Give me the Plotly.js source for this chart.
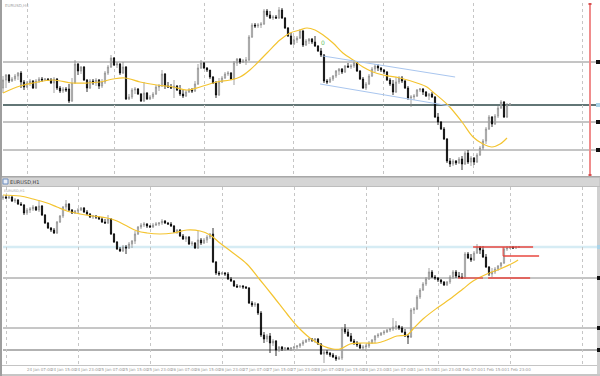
<!DOCTYPE html>
<html><head><meta charset="utf-8">
<script src="https://cdn.plot.ly/plotly-3.0.1.min.js"></script>
<style>html,body{margin:0;padding:0;background:#fff;}#chart{width:600px;height:376px;}</style>
</head><body><div id="chart"></div>
<script>
// ---------- EURUSD H4 (top panel) ----------
const topOpen = [1.1333,1.1349,1.1359,1.1347,1.1351,1.1357,1.1363,1.1345,1.1335,1.1343,
1.1347,1.1333,1.1347,1.1351,1.1349,1.1351,1.1349,1.1343,1.1351,1.1333,
1.1327,1.1331,1.1331,1.1307,1.1343,1.1381,1.1367,1.1375,1.1349,1.1333,
1.1347,1.1343,1.1349,1.1337,1.1345,1.1363,1.1375,1.1393,1.1379,1.1381,
1.1363,1.1375,1.1311,1.1315,1.1329,1.1331,1.1321,1.1307,1.1323,1.1311,
1.1315,1.1321,1.1335,1.1337,1.1361,1.1337,1.1335,1.1333,1.1337,1.1329,
1.1321,1.1317,1.1325,1.1329,1.1327,1.1341,1.1373,1.1383,1.1373,1.1369,
1.1355,1.1343,1.1319,1.1345,1.1353,1.1361,1.1363,1.1351,1.1383,1.1391,
1.1385,1.1387,1.1389,1.1435,1.1459,1.1457,1.1459,1.1461,1.1487,1.1479,
1.1473,1.1475,1.1473,1.1489,1.1473,1.1453,1.1437,1.1421,1.1429,1.1433,
1.1447,1.1419,1.1427,1.1431,1.1425,1.1417,1.1407,1.1399,1.1347,1.1345,
1.1351,1.1357,1.1367,1.1371,1.1365,1.1377,1.1375,1.1377,1.1383,1.1367,
1.1351,1.1333,1.1341,1.1357,1.1371,1.1377,1.1373,1.1369,1.1365,1.1349,
1.1341,1.1325,1.1345,1.1353,1.1347,1.1333,1.1313,1.1315,1.1317,1.1329,
1.1331,1.1325,1.1317,1.1321,1.1315,1.1275,1.1265,1.1251,1.1231,1.1187,
1.1181,1.1187,1.1183,1.1191,1.1181,1.1203,1.1185,1.1193,1.1185,1.1199,
1.1213,1.1227,1.1251,1.1275,1.1261,1.1277,1.1293,1.1305,1.1275,1.1299];
const topHigh = [1.1357,1.1361,1.1361,1.1355,1.1361,1.1365,1.1367,1.1349,1.1347,1.1351,
1.1349,1.1351,1.1355,1.1355,1.1353,1.1353,1.1353,1.1355,1.1353,1.1337,
1.1335,1.1335,1.1341,1.1353,1.1389,1.1383,1.1377,1.1377,1.1351,1.1351,
1.1351,1.1353,1.1351,1.1351,1.1367,1.1379,1.1399,1.1395,1.1385,1.1383,
1.1385,1.1377,1.1321,1.1333,1.1335,1.1333,1.1323,1.1345,1.1325,1.1319,
1.1325,1.1339,1.1341,1.1369,1.1363,1.1345,1.1341,1.1349,1.1339,1.1339,
1.1331,1.1329,1.1333,1.1333,1.1347,1.1381,1.1389,1.1385,1.1375,1.1369,
1.1357,1.1347,1.1353,1.1357,1.1365,1.1367,1.1365,1.1387,1.1393,1.1393,
1.1391,1.1395,1.1439,1.1463,1.1463,1.1463,1.1465,1.1491,1.1491,1.1487,
1.1479,1.1479,1.1495,1.1493,1.1475,1.1455,1.1443,1.1437,1.1437,1.1451,
1.1449,1.1431,1.1433,1.1433,1.1437,1.1419,1.1413,1.1401,1.1351,1.1355,
1.1359,1.1369,1.1373,1.1373,1.1379,1.1383,1.1381,1.1389,1.1385,1.1369,
1.1355,1.1345,1.1361,1.1375,1.1381,1.1381,1.1375,1.1371,1.1367,1.1353,
1.1349,1.1355,1.1357,1.1357,1.1349,1.1337,1.1319,1.1321,1.1331,1.1333,
1.1333,1.1327,1.1323,1.1325,1.1317,1.1283,1.1267,1.1255,1.1233,1.1193,
1.1191,1.1189,1.1195,1.1197,1.1207,1.1209,1.1197,1.1195,1.1203,1.1217,
1.1231,1.1255,1.1279,1.1277,1.1281,1.1297,1.1309,1.1307,1.1303,1.1303];
const topLow = [1.1323,1.1333,1.1343,1.1345,1.1347,1.1349,1.1333,1.1329,1.1333,1.1337,
1.1331,1.1331,1.1343,1.1345,1.1347,1.1347,1.1341,1.1323,1.1329,1.1323,
1.1323,1.1325,1.1303,1.1305,1.1341,1.1359,1.1361,1.1347,1.1325,1.1331,
1.1339,1.1337,1.1331,1.1333,1.1341,1.1359,1.1373,1.1377,1.1373,1.1359,
1.1361,1.1309,1.1309,1.1311,1.1321,1.1319,1.1305,1.1305,1.1309,1.1309,
1.1311,1.1319,1.1327,1.1335,1.1331,1.1333,1.1331,1.1313,1.1327,1.1317,
1.1313,1.1315,1.1323,1.1323,1.1325,1.1339,1.1371,1.1371,1.1365,1.1351,
1.1341,1.1313,1.1317,1.1343,1.1351,1.1357,1.1349,1.1339,1.1377,1.1381,
1.1383,1.1379,1.1387,1.1433,1.1453,1.1453,1.1453,1.1459,1.1475,1.1471,
1.1469,1.1471,1.1471,1.1471,1.1451,1.1435,1.1419,1.1419,1.1423,1.1431,
1.1415,1.1417,1.1421,1.1421,1.1415,1.1405,1.1395,1.1343,1.1341,1.1343,
1.1347,1.1353,1.1359,1.1361,1.1363,1.1373,1.1371,1.1373,1.1365,1.1349,
1.1331,1.1329,1.1339,1.1355,1.1365,1.1367,1.1365,1.1361,1.1347,1.1337,
1.1319,1.1323,1.1341,1.1343,1.1331,1.1309,1.1295,1.1309,1.1315,1.1325,
1.1319,1.1315,1.1309,1.1313,1.1273,1.1259,1.1249,1.1229,1.1183,1.1175,
1.1177,1.1179,1.1181,1.1169,1.1179,1.1181,1.1177,1.1179,1.1183,1.1197,
1.1209,1.1221,1.1249,1.1255,1.1259,1.1273,1.1291,1.1273,1.1273,1.1297];
const topClose = [1.1349,1.1359,1.1347,1.1351,1.1357,1.1363,1.1345,1.1335,1.1343,1.1347,
1.1333,1.1347,1.1351,1.1349,1.1351,1.1349,1.1343,1.1351,1.1333,1.1327,
1.1331,1.1329,1.1307,1.1343,1.1381,1.1367,1.1375,1.1349,1.1333,1.1347,
1.1343,1.1349,1.1337,1.1345,1.1363,1.1375,1.1393,1.1379,1.1381,1.1363,
1.1375,1.1311,1.1315,1.1329,1.1331,1.1321,1.1307,1.1323,1.1311,1.1315,
1.1321,1.1335,1.1337,1.1361,1.1337,1.1335,1.1333,1.1337,1.1329,1.1321,
1.1317,1.1325,1.1329,1.1327,1.1341,1.1373,1.1383,1.1373,1.1369,1.1355,
1.1343,1.1319,1.1345,1.1353,1.1361,1.1363,1.1351,1.1383,1.1391,1.1385,
1.1387,1.1389,1.1435,1.1459,1.1457,1.1459,1.1461,1.1487,1.1479,1.1473,
1.1475,1.1473,1.1489,1.1473,1.1453,1.1437,1.1421,1.1429,1.1433,1.1447,
1.1419,1.1427,1.1431,1.1425,1.1417,1.1407,1.1399,1.1347,1.1345,1.1351,
1.1357,1.1367,1.1371,1.1365,1.1377,1.1375,1.1377,1.1383,1.1367,1.1351,
1.1333,1.1341,1.1357,1.1371,1.1377,1.1373,1.1369,1.1365,1.1349,1.1341,
1.1325,1.1345,1.1353,1.1347,1.1333,1.1313,1.1315,1.1317,1.1329,1.1331,
1.1325,1.1317,1.1321,1.1315,1.1275,1.1265,1.1251,1.1231,1.1187,1.1181,
1.1187,1.1183,1.1191,1.1181,1.1203,1.1185,1.1193,1.1185,1.1199,1.1213,
1.1227,1.1251,1.1275,1.1261,1.1277,1.1293,1.1305,1.1275,1.1299,1.1301];
const topMaBar = [0,5.7,10,16.7,23,28,32.3,36.7,40.7,45.7,51.3,56.7,61.3,65.7,71.3,75.7,79,82.3,88,92.3,95.7,99,101.3,104,106.7,110,113.3,116.7,120,123.3,126.7,132.3,138,141.3,143.3,148.3,153,156.7,160,163,165.7,168];
const topMaVal = [1.1323,1.1337,1.1343,1.1349,1.1343,1.1343,1.1345,1.1351,1.1353,1.1345,1.1339,1.1335,1.1329,1.1335,1.1345,1.1349,1.1355,1.1369,1.1403,1.1429,1.1443,1.1449,1.1453,1.1449,1.1439,1.1423,1.1403,1.1389,1.1375,1.1365,1.1359,1.1353,1.1343,1.1335,1.1325,1.1299,1.1265,1.1235,1.1221,1.1215,1.1221,1.1233];
const topLevels = [1.1385,1.1299,1.1265,1.1209];
const topChannelUpper = {bar:[106.7,150.7], val:[1.1397,1.1355]};
const topChannelLower = {bar:[105.7,149], val:[1.1341,1.1297]};
const topGridBars = [8,37.3,67,96.7,126.7,156.7,193];

// ---------- EURUSD H1 (bottom panel) ----------
const botOpen = [1.1348,1.1349,1.1348,1.1349,1.1345,1.1346,1.1342,1.1341,1.1333,1.1336,
1.1337,1.1339,1.1336,1.1340,1.1331,1.1323,1.1318,1.1316,1.1313,1.1324,
1.1330,1.1339,1.1342,1.1336,1.1333,1.1335,1.1336,1.1338,1.1334,1.1332,
1.1329,1.1330,1.1329,1.1327,1.1324,1.1323,1.1327,1.1312,1.1304,1.1297,
1.1295,1.1299,1.1298,1.1302,1.1305,1.1312,1.1319,1.1321,1.1322,1.1320,
1.1319,1.1321,1.1322,1.1323,1.1325,1.1323,1.1322,1.1320,1.1314,1.1316,
1.1310,1.1307,1.1309,1.1302,1.1303,1.1298,1.1306,1.1303,1.1306,1.1309,
1.1312,1.1284,1.1273,1.1272,1.1273,1.1272,1.1267,1.1265,1.1260,1.1259,
1.1260,1.1259,1.1258,1.1243,1.1241,1.1242,1.1233,1.1211,1.1207,1.1210,
1.1203,1.1205,1.1196,1.1199,1.1197,1.1198,1.1197,1.1198,1.1199,1.1200,
1.1202,1.1204,1.1206,1.1207,1.1206,1.1207,1.1202,1.1192,1.1194,1.1193,
1.1191,1.1189,1.1187,1.1188,1.1217,1.1214,1.1210,1.1205,1.1203,1.1201,
1.1198,1.1199,1.1200,1.1203,1.1206,1.1210,1.1211,1.1213,1.1214,1.1216,
1.1217,1.1219,1.1220,1.1218,1.1214,1.1210,1.1209,1.1236,1.1237,1.1249,
1.1256,1.1262,1.1267,1.1274,1.1269,1.1268,1.1266,1.1264,1.1261,1.1264,
1.1269,1.1274,1.1270,1.1269,1.1268,1.1292,1.1288,1.1286,1.1293,1.1299,
1.1296,1.1289,1.1279,1.1272,1.1274,1.1277,1.1280,1.1283,1.1297,1.1298,
1.1299,1.1298,1.1299];
const botHigh = [1.1351,1.1351,1.1350,1.1350,1.1348,1.1347,1.1344,1.1342,1.1338,1.1339,
1.1341,1.1340,1.1346,1.1341,1.1332,1.1324,1.1319,1.1318,1.1325,1.1331,
1.1340,1.1346,1.1343,1.1337,1.1336,1.1338,1.1339,1.1339,1.1336,1.1333,
1.1331,1.1331,1.1330,1.1329,1.1327,1.1331,1.1328,1.1313,1.1305,1.1299,
1.1301,1.1301,1.1304,1.1306,1.1315,1.1320,1.1323,1.1324,1.1323,1.1321,
1.1323,1.1324,1.1324,1.1327,1.1326,1.1324,1.1324,1.1321,1.1317,1.1317,
1.1312,1.1310,1.1310,1.1305,1.1304,1.1315,1.1308,1.1308,1.1311,1.1313,
1.1318,1.1285,1.1275,1.1274,1.1274,1.1274,1.1269,1.1266,1.1262,1.1261,
1.1261,1.1260,1.1259,1.1245,1.1244,1.1243,1.1235,1.1214,1.1212,1.1213,
1.1207,1.1206,1.1200,1.1200,1.1199,1.1199,1.1199,1.1200,1.1201,1.1203,
1.1206,1.1207,1.1208,1.1208,1.1208,1.1208,1.1203,1.1196,1.1196,1.1194,
1.1193,1.1191,1.1190,1.1219,1.1222,1.1217,1.1213,1.1207,1.1205,1.1203,
1.1201,1.1202,1.1205,1.1207,1.1211,1.1213,1.1214,1.1216,1.1217,1.1218,
1.1228,1.1225,1.1221,1.1220,1.1217,1.1212,1.1238,1.1239,1.1251,1.1258,
1.1264,1.1269,1.1278,1.1276,1.1271,1.1269,1.1267,1.1265,1.1265,1.1271,
1.1276,1.1276,1.1274,1.1273,1.1294,1.1294,1.1292,1.1295,1.1302,1.1300,
1.1300,1.1292,1.1280,1.1278,1.1279,1.1281,1.1284,1.1299,1.1300,1.1300,
1.1300,1.1300,1.1300];
const botLow = [1.1346,1.1347,1.1347,1.1344,1.1343,1.1341,1.1340,1.1331,1.1331,1.1333,
1.1335,1.1335,1.1334,1.1330,1.1322,1.1317,1.1314,1.1312,1.1312,1.1323,
1.1328,1.1336,1.1335,1.1332,1.1332,1.1333,1.1335,1.1333,1.1331,1.1328,
1.1327,1.1327,1.1326,1.1323,1.1322,1.1322,1.1311,1.1303,1.1296,1.1294,
1.1294,1.1292,1.1297,1.1298,1.1302,1.1311,1.1317,1.1319,1.1318,1.1318,
1.1318,1.1320,1.1320,1.1321,1.1322,1.1321,1.1319,1.1313,1.1312,1.1309,
1.1306,1.1304,1.1301,1.1300,1.1297,1.1297,1.1301,1.1302,1.1303,1.1307,
1.1283,1.1271,1.1270,1.1271,1.1270,1.1266,1.1264,1.1259,1.1258,1.1258,
1.1257,1.1257,1.1242,1.1239,1.1239,1.1231,1.1209,1.1203,1.1204,1.1193,
1.1200,1.1190,1.1194,1.1195,1.1195,1.1196,1.1195,1.1196,1.1197,1.1198,
1.1200,1.1203,1.1204,1.1204,1.1203,1.1201,1.1191,1.1183,1.1191,1.1189,
1.1188,1.1185,1.1186,1.1186,1.1212,1.1209,1.1204,1.1201,1.1199,1.1197,
1.1196,1.1195,1.1198,1.1202,1.1203,1.1208,1.1210,1.1211,1.1213,1.1214,
1.1215,1.1216,1.1216,1.1213,1.1209,1.1202,1.1208,1.1232,1.1236,1.1247,
1.1255,1.1260,1.1266,1.1268,1.1266,1.1264,1.1262,1.1260,1.1260,1.1262,
1.1267,1.1268,1.1268,1.1267,1.1267,1.1287,1.1284,1.1285,1.1292,1.1292,
1.1288,1.1278,1.1270,1.1269,1.1272,1.1275,1.1278,1.1282,1.1295,1.1297,
1.1297,1.1297,1.1298];
const botClose = [1.1349,1.1348,1.1349,1.1345,1.1346,1.1342,1.1341,1.1333,1.1336,1.1337,
1.1339,1.1336,1.1340,1.1331,1.1323,1.1318,1.1316,1.1313,1.1324,1.1330,
1.1339,1.1342,1.1336,1.1333,1.1335,1.1336,1.1338,1.1334,1.1332,1.1329,
1.1330,1.1329,1.1327,1.1324,1.1323,1.1327,1.1312,1.1304,1.1297,1.1295,
1.1299,1.1298,1.1302,1.1305,1.1312,1.1319,1.1321,1.1322,1.1320,1.1319,
1.1321,1.1322,1.1323,1.1325,1.1323,1.1322,1.1320,1.1314,1.1316,1.1310,
1.1307,1.1309,1.1302,1.1303,1.1298,1.1306,1.1303,1.1306,1.1309,1.1312,
1.1284,1.1273,1.1272,1.1273,1.1272,1.1267,1.1265,1.1260,1.1259,1.1260,
1.1259,1.1258,1.1243,1.1241,1.1242,1.1233,1.1211,1.1207,1.1210,1.1203,
1.1205,1.1196,1.1199,1.1197,1.1198,1.1197,1.1198,1.1199,1.1200,1.1202,
1.1204,1.1206,1.1207,1.1206,1.1207,1.1202,1.1192,1.1194,1.1193,1.1191,
1.1189,1.1187,1.1188,1.1217,1.1214,1.1210,1.1205,1.1203,1.1201,1.1198,
1.1199,1.1200,1.1203,1.1206,1.1210,1.1211,1.1213,1.1214,1.1216,1.1217,
1.1219,1.1220,1.1218,1.1214,1.1210,1.1209,1.1236,1.1237,1.1249,1.1256,
1.1262,1.1267,1.1274,1.1269,1.1268,1.1266,1.1264,1.1261,1.1264,1.1269,
1.1274,1.1270,1.1269,1.1268,1.1292,1.1288,1.1286,1.1293,1.1299,1.1296,
1.1289,1.1279,1.1272,1.1274,1.1277,1.1280,1.1283,1.1297,1.1298,1.1299,
1.1298,1.1299,1.1299];
const botMaBar = [0,5.7,10,14.7,18,21.3,25.7,30,34.7,38,41.3,44.7,48,52.3,56.7,61.3,65.7,69,72.3,76.7,81.3,85.7,90,94.7,98,102.3,106.7,110,112.3,115.7,120,124.7,128,131.3,134.7,136.7,140,144.7,149,153.3,156.7,161.3,165.7,170,171.7];
const botMaVal = [1.1351,1.1350,1.1347,1.1343,1.1339,1.1335,1.1332,1.1330,1.1328,1.1325,1.1320,1.1315,1.1313,1.1312,1.1313,1.1316,1.1315,1.1311,1.1303,1.1293,1.1282,1.1266,1.1250,1.1232,1.1220,1.1208,1.1200,1.1197,1.1197,1.1202,1.1203,1.1203,1.1206,1.1210,1.1211,1.1217,1.1227,1.1238,1.1247,1.1257,1.1265,1.1272,1.1277,1.1283,1.1286];
const botBidLevel = 1.1299;
const botLevels = [1.1268,1.1218,1.1196];
const botRedLevels = [
  {from:156.7, to:176.7, val:1.1299},
  {from:166.7, to:178.7, val:1.1290},
  {from:151.7, to:160.0, val:1.1268},
  {from:161.7, to:175.7, val:1.1268}
];
const botGridBars = [1,25,49,73,97,121,145,169,193];
const timeLabels = ["23 Jan 2022","24 Jan 07:00","24 Jan 15:00","24 Jan 23:00","25 Jan 07:00","25 Jan 15:00","25 Jan 23:00","26 Jan 07:00","26 Jan 15:00","26 Jan 23:00","27 Jan 07:00","27 Jan 15:00","27 Jan 23:00","28 Jan 07:00","28 Jan 15:00","28 Jan 23:00","31 Jan 07:00","31 Jan 15:00","31 Jan 23:00","1 Feb 07:00","1 Feb 15:00","1 Feb 23:00"];
const timeLabelBars = [0,8,16,24,32,40,48,56,64,72,80,88,96,104,112,120,128,136,144,152,160,168];

// ---------- drawing ----------
const W = 600, H = 376;
const px = v => v / W;
const py = v => 1 - v / H;
const topBars = topClose.map((_, i) => i);
const botBars = botClose.map((_, i) => i);

const candleStyle = {
  increasing: {line: {color: '#8a8a8a', width: 0.8}, fillcolor: '#ffffff'},
  decreasing: {line: {color: '#000000', width: 0.8}, fillcolor: '#000000'},
  whiskerwidth: 0, hoverinfo: 'skip', showlegend: false
};

const traces = [
  Object.assign({type: 'candlestick', x: topBars, open: topOpen, high: topHigh, low: topLow, close: topClose, xaxis: 'x', yaxis: 'y'}, candleStyle),
  {type: 'scatter', mode: 'lines', x: topMaBar, y: topMaVal, xaxis: 'x', yaxis: 'y', line: {color: '#f4c430', width: 1.2, shape: 'spline'}, hoverinfo: 'skip'},
  {type: 'scatter', mode: 'lines', x: topChannelUpper.bar, y: topChannelUpper.val, xaxis: 'x', yaxis: 'y', line: {color: '#a9c6ef', width: 1}, hoverinfo: 'skip'},
  {type: 'scatter', mode: 'lines', x: topChannelLower.bar, y: topChannelLower.val, xaxis: 'x', yaxis: 'y', line: {color: '#a9c6ef', width: 1}, hoverinfo: 'skip'},
  Object.assign({type: 'candlestick', x: botBars, open: botOpen, high: botHigh, low: botLow, close: botClose, xaxis: 'x2', yaxis: 'y2'}, candleStyle),
  {type: 'scatter', mode: 'lines', x: botMaBar, y: botMaVal, xaxis: 'x2', yaxis: 'y2', line: {color: '#f4c430', width: 1.2, shape: 'spline'}, hoverinfo: 'skip'}
];

const shapes = [];
// frame pieces
shapes.push({type: 'rect', xref: 'paper', yref: 'paper', x0: 0, x1: px(2), y0: 0, y1: 1, fillcolor: '#9e9e9e', line: {width: 0}, layer: 'below'});
shapes.push({type: 'line', xref: 'paper', yref: 'paper', x0: px(2), x1: 1, y0: py(176.5), y1: py(176.5), line: {color: '#a8a8a8', width: 1}, layer: 'below'});
shapes.push({type: 'rect', xref: 'paper', yref: 'paper', x0: px(2), x1: 1, y0: py(186.5), y1: py(177.5), fillcolor: '#d5d5d5', line: {color: '#bdbdbd', width: 1}, layer: 'below'});
shapes.push({type: 'rect', xref: 'paper', yref: 'paper', x0: px(3), x1: px(8), y0: py(184), y1: py(179), fillcolor: '#e8eef8', line: {color: '#6f8fc0', width: 1}, layer: 'above'});
shapes.push({type: 'line', xref: 'paper', yref: 'paper', x0: px(2), x1: px(597), y0: py(365.5), y1: py(365.5), line: {color: '#c4c4c4', width: 1}, layer: 'below'});
shapes.push({type: 'rect', xref: 'paper', yref: 'paper', x0: px(2), x1: 1, y0: 0, y1: py(374), fillcolor: '#c6c6c6', line: {width: 0}, layer: 'below'});
shapes.push({type: 'rect', xref: 'paper', yref: 'paper', x0: px(597), x1: 1, y0: py(374), y1: py(187), fillcolor: '#d0d0d0', line: {width: 0}, layer: 'below'});
// top horizontal levels
const topLevelStyle = [
  {color: '#8a8a8a', width: 1}, {color: '#2e4848', width: 1.5},
  {color: '#8a8a8a', width: 1}, {color: '#8a8a8a', width: 1}
];
topLevels.forEach((v, k) => {
  shapes.push({type: 'line', xref: 'paper', yref: 'y', x0: px(3), x1: px(596), y0: v, y1: v, line: topLevelStyle[k], layer: 'below'});
});
// bottom levels
shapes.push({type: 'line', xref: 'paper', yref: 'y2', x0: px(3), x1: px(597), y0: botBidLevel, y1: botBidLevel, line: {color: '#d6ecf4', width: 2.5}, layer: 'below'});
const botLevelStyle = [{color: '#8a8a8a', width: 1}, {color: '#8e8e8e', width: 1}, {color: '#b2b2b2', width: 2}];
botLevels.forEach((v, k) => {
  shapes.push({type: 'line', xref: 'paper', yref: 'y2', x0: px(3), x1: px(597), y0: v, y1: v, line: botLevelStyle[k], layer: 'below'});
});
// red drawn levels in bottom panel
botRedLevels.forEach(s => {
  shapes.push({type: 'line', xref: 'x2', yref: 'y2', x0: s.from, x1: s.to, y0: s.val, y1: s.val, line: {color: '#e8473f', width: 1.3}});
});
shapes.push({type: 'line', xref: 'x2', yref: 'y2', x0: botRedLevels[1].from, x1: botRedLevels[1].from, y0: botRedLevels[0].val, y1: botRedLevels[1].val, line: {color: '#e8473f', width: 1}});
// red vertical line top panel (drawn as a thin filled strip)
shapes.push({type: 'rect', xref: 'paper', yref: 'paper', x0: px(589), x1: px(591), y0: py(176), y1: py(3), fillcolor: '#f08c8c', line: {width: 0}, layer: 'above'});
shapes.push({type: 'rect', xref: 'paper', yref: 'paper', x0: px(588.5), x1: px(591.5), y0: py(5), y1: py(3), fillcolor: '#d65050', line: {width: 0}, layer: 'above'});
shapes.push({type: 'rect', xref: 'paper', yref: 'paper', x0: px(588.5), x1: px(591.5), y0: py(176), y1: py(174), fillcolor: '#d65050', line: {width: 0}, layer: 'above'});
// price-scale markers at right edge
[topLevels[0], topLevels[2], topLevels[3]].forEach(v => {
  shapes.push({type: 'rect', xref: 'paper', yref: 'y', x0: px(596), x1: 1, y0: v - 0.0004, y1: v + 0.0004, fillcolor: '#111111', line: {width: 0}});
});
shapes.push({type: 'rect', xref: 'paper', yref: 'y', x0: px(596), x1: 1, y0: topLevels[1] - 0.0004, y1: topLevels[1] + 0.0004, fillcolor: '#a9d3e8', line: {width: 0}});
botLevels.forEach(v => {
  shapes.push({type: 'rect', xref: 'paper', yref: 'y2', x0: px(597), x1: 1, y0: v - 0.0002, y1: v + 0.0002, fillcolor: '#111111', line: {width: 0}});
});
shapes.push({type: 'rect', xref: 'paper', yref: 'y2', x0: px(597), x1: 1, y0: botBidLevel - 0.0002, y1: botBidLevel + 0.0002, fillcolor: '#a9d3e8', line: {width: 0}});

const annotations = [];
timeLabels.forEach((t, k) => {
  annotations.push({xref: 'x2', yref: 'paper', x: timeLabelBars[k] - 0.4, y: py(369.5), xanchor: 'left', yanchor: 'middle',
    text: t, showarrow: false, font: {family: 'DejaVu Sans', size: 4, color: '#9a9a9a'}, borderpad: 0});
});
annotations.push({xref: 'paper', yref: 'paper', x: px(4), y: py(5.5), xanchor: 'left', yanchor: 'middle', text: 'EURUSD,H4', showarrow: false, font: {family: 'DejaVu Sans', size: 4, color: '#a4a4a4'}, borderpad: 0});
annotations.push({xref: 'paper', yref: 'paper', x: px(9), y: py(182), xanchor: 'left', yanchor: 'middle', text: 'EURUSD,H1', showarrow: false, font: {family: 'DejaVu Sans', size: 5, color: '#3c3c3c'}, borderpad: 0});
annotations.push({xref: 'paper', yref: 'paper', x: px(3), y: py(191), xanchor: 'left', yanchor: 'middle', text: 'EURUSD,H1', showarrow: false, font: {family: 'DejaVu Sans', size: 3.5, color: '#a4a4a4'}, borderpad: 0});
annotations.push({xref: 'x', yref: 'y', x: 106.7, y: 1.1425, xanchor: 'center', yanchor: 'middle', text: '0', showarrow: false, font: {family: 'DejaVu Sans', size: 6, color: '#6cbf6c'}, borderpad: 0});

const xCommon = {
  domain: [px(2), px(596)], range: [-1/3, 197 + 2/3], showticklabels: false, ticks: '',
  showgrid: true, gridcolor: '#c6c6c6', griddash: 'dot', gridwidth: 1,
  zeroline: false, showline: false, rangeslider: {visible: false}, fixedrange: true, tickmode: 'array'
};
const yCommon = {showticklabels: false, ticks: '', showgrid: false, zeroline: false, showline: false, fixedrange: true};

const layout = {
  width: W, height: H, margin: {l: 0, r: 0, t: 0, b: 0},
  paper_bgcolor: '#ffffff', plot_bgcolor: 'rgba(0,0,0,0)', showlegend: false,
  boxgap: 0.45, boxgroupgap: 0.3,
  xaxis: Object.assign({}, xCommon, {anchor: 'y', tickvals: topGridBars}),
  yaxis: Object.assign({}, yCommon, {anchor: 'x', domain: [py(176), py(3)], range: [1.1157, 1.1503]}),
  xaxis2: Object.assign({}, xCommon, {anchor: 'y2', tickvals: botGridBars}),
  yaxis2: Object.assign({}, yCommon, {anchor: 'x2', domain: [py(365), py(187)], range: [1.1181, 1.1359]}),
  shapes: shapes, annotations: annotations
};

Plotly.newPlot('chart', traces, layout, {staticPlot: true, displayModeBar: false});
</script></body></html>
